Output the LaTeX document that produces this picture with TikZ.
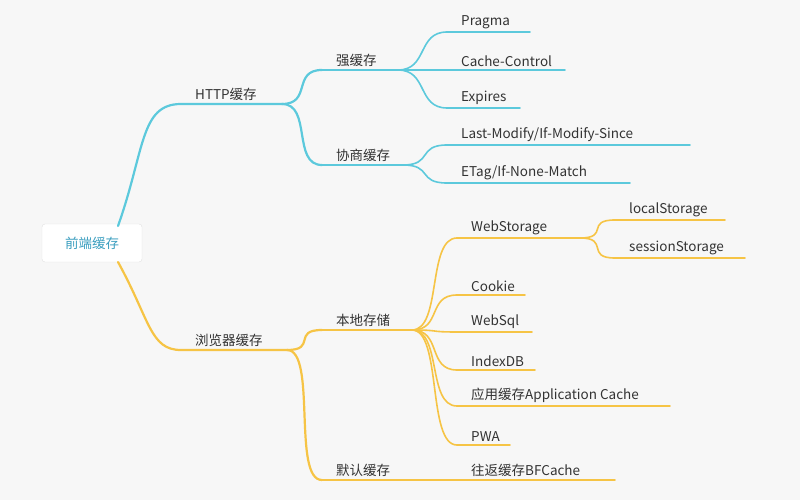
\documentclass[tikz,border=0pt]{standalone}
\usepackage{fontspec}
\setmainfont{Noto Sans CJK SC}
\definecolor{httpc}{HTML}{5CC9DC}
\definecolor{browc}{HTML}{F6C445}
\definecolor{txtc}{HTML}{333333}
\definecolor{rootc}{HTML}{3C9FC0}
\tikzset{
  lbl/.style={anchor=south west, inner xsep=0pt, inner ysep=3pt, text=txtc, font=\fontsize{13.5pt}{15pt}\selectfont},
  branch/.style={line width=2.2pt, line cap=round},
  twig/.style={line width=1.6pt, line cap=round}
}
% \leaf{name}{x left}{x right}{y}{text}
\newcommand{\leaf}[5]{%
  \coordinate (#1-l) at (#2,#4);
  \coordinate (#1-r) at (#3,#4);
  \node[lbl] (#1) at ([xshift=14pt]#1-l) {#5};
}
\newcommand{\link}[3][twig]{%
  \draw[#1] (#2-r) .. controls +(30,0) and +(-30,0) .. (#3-l);
}
\begin{document}
\begin{tikzpicture}[x=1pt,y=-1pt]
\useasboundingbox[fill=white!97!black] (0,0) rectangle (800,500);

\node[draw=black!12, rounded corners=3pt, fill=white, minimum width=100, minimum height=38,
  text=rootc, font=\fontsize{13.5pt}{15pt}\selectfont] (root) at (92,243) {前端缓存};
\coordinate (root-ra) at (118,226);
\coordinate (root-rb) at (118,262);

% HTTP branch
\leaf{http}{181}{282}{104}{HTTP缓存}
\leaf{strong}{322}{398}{70}{强缓存}
\leaf{nego}{322}{403}{165}{协商缓存}
\leaf{pragma}{447}{530}{32}{Pragma}
\leaf{cc}{447}{565}{70}{Cache-Control}
\leaf{exp}{447}{520}{108}{Expires}
\leaf{lm}{447}{690}{145}{Last-Modify/If-Modify-Since}
\leaf{etag}{447}{630}{183}{ETag/If-None-Match}

\begin{scope}[draw=httpc]
\draw[branch] (root-ra) .. controls (145,150) and (140,104) .. (http-l) -- (http-r);
\foreach \n in {strong,nego}{\link[branch]{http}{\n} \draw[branch] (\n-l) -- (\n-r);}
\foreach \n in {pragma,cc,exp}{\link{strong}{\n} \draw[twig] (\n-l) -- (\n-r);}
\foreach \n in {lm,etag}{\link{nego}{\n} \draw[twig] (\n-l) -- (\n-r);}
\end{scope}

% browser branch
\leaf{brow}{181}{287}{350}{浏览器缓存}
\leaf{local}{322}{412}{330}{本地存储}
\leaf{dflt}{322}{412}{480}{默认缓存}
\leaf{ws}{457}{580}{238}{WebStorage}
\leaf{cookie}{457}{525}{295}{Cookie}
\leaf{sql}{457}{532}{332}{WebSql}
\leaf{idb}{457}{535}{370}{IndexDB}
\leaf{appc}{457}{670}{406}{应用缓存Application Cache}
\leaf{pwa}{457}{510}{445}{PWA}
\leaf{bfc}{457}{615}{480}{往返缓存BFCache}
\leaf{ls}{615}{725}{220}{localStorage}
\leaf{ss}{615}{745}{258}{sessionStorage}

\begin{scope}[draw=browc]
\draw[branch] (root-rb) .. controls (150,320) and (150,350) .. (brow-l) -- (brow-r);
\foreach \n in {local,dflt}{\link[branch]{brow}{\n} \draw[branch] (\n-l) -- (\n-r);}
\foreach \n in {ws,cookie,sql,idb,appc,pwa}{\link{local}{\n} \draw[twig] (\n-l) -- (\n-r);}
\link{dflt}{bfc} \draw[twig] (bfc-l) -- (bfc-r);
\foreach \n in {ls,ss}{\link{ws}{\n} \draw[twig] (\n-l) -- (\n-r);}
\end{scope}
\end{tikzpicture}
\end{document}
